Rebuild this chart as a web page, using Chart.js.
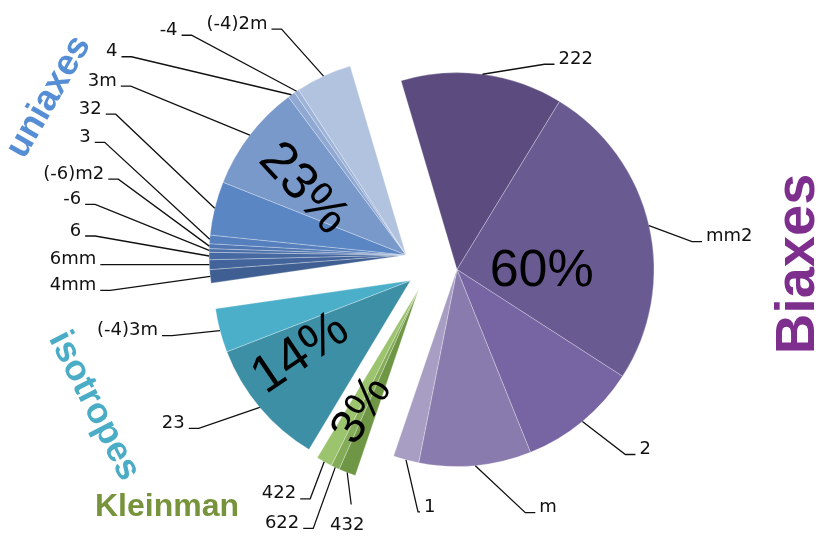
<!DOCTYPE html>
<html>
<head>
<meta charset="utf-8">
<script src="https://cdn.jsdelivr.net/npm/chart.js@4.4.1/dist/chart.umd.min.js"></script>
<style>
  html, body { margin: 0; padding: 0; background: #ffffff; }
  #wrap { width: 825px; height: 538px; position: relative; }
</style>
</head>
<body>
<div id="wrap"><canvas id="c" width="825" height="538"></canvas></div>
<script>
// Crystal point groups, clockwise from the top
const pointGroups = ['222', 'mm2', '2', 'm', '1',
                     '432', '622', '422',
                     '23', '(-4)3m',
                     '4mm', '6mm', '6', '-6', '(-6)m2', '3', '32', '3m', '4', '-4', '(-4)2m'];

// Share of each point group, in %
const shares = [13.3, 25.4, 9.8, 9.2, 2.1,
                1.4, 0.7, 1.3,
                10.5, 3.6,
                1.1, 0.8, 0.6, 0.3, 0.4, 0.7, 4.4, 8.8, 0.6, 0.4, 4.6];

// Family of each point group (index into familyNames)
const familyOf = [0, 0, 0, 0, 0,
                  1, 1, 1,
                  2, 2,
                  3, 3, 3, 3, 3, 3, 3, 3, 3, 3, 3];

const familyNames = ['Biaxes', 'Kleinman', 'isotropes', 'uniaxes'];

// ---- styling ----
const sliceColors = ['#5C4B7E', '#6A5A92', '#7764A2', '#8A7BAF', '#A89EC3',
                     '#6F9645', '#84AC58', '#9CC36E',
                     '#3D8FA6', '#4BAFC9',
                     '#3F5F93', '#43649A', '#4769A1', '#4B6FA8', '#5077B2', '#557FBD',
                     '#5B86C4', '#7899C9', '#8FA9D3', '#9DB3D8', '#B2C3E0'];

// explode distance, family title and percentage label placement
const familyStyle = [
  { explode: 29, color: '#7E2F8E', title: { x: 799, y: 264, angle: -90, size: 56 },
    pct: { r: 0.43, angle: 0, size: 52 } },
  { explode: 22, color: '#77933C', title: { x: 167, y: 507, angle: 0, size: 32 },
    pct: { r: 0.68, angle: -57, size: 48 } },
  { explode: 21, color: '#4BACC6', title: { x: 94, y: 406, angle: 63, size: 36 },
    pct: { r: 0.67, angle: -34, size: 52 } },
  { explode: 26, color: '#558ED5', title: { x: 49, y: 97, angle: -60, size: 36 },
    pct: { r: 0.62, angle: 47, size: 52 } }
];

// callouts: elbow offset from the slice's outer edge and text side
const callouts = {
  '222':    { dx: 62,   dy: -10, side: 'r' },
  'mm2':    { dx: 43,   dy: 16,  side: 'r' },
  '2':      { dx: 43,   dy: 33,  side: 'r' },
  'm':      { dx: 50,   dy: 47,  side: 'r' },
  '1':      { dx: 12,   dy: 52,  side: 'r', seg: 2 },
  '432':    { dx: 4,    dy: 32,  side: 'b' },
  '622':    { dx: -22,  dy: 61,  side: 'l' },
  '422':    { dx: -14,  dy: 37,  side: 'l' },
  '23':     { dx: -61,  dy: 21,  side: 'l' },
  '(-4)3m': { dx: -48,  dy: 5,   side: 'l' },
  '4mm':    { dx: -100, dy: 14,  side: 'l' },
  '6mm':    { dx: -99,  dy: 0,   side: 'l' },
  '6':      { dx: -114, dy: -20, side: 'l' },
  '-6':     { dx: -114, dy: -46, side: 'l' },
  '(-6)m2': { dx: -91,  dy: -67, side: 'l' },
  '3':      { dx: -105, dy: -97, side: 'l' },
  '32':     { dx: -99,  dy: -94, side: 'l' },
  '3m':     { dx: -119, dy: -49, side: 'l' },
  '4':      { dx: -160, dy: -38, side: 'l' },
  '-4':     { dx: -105, dy: -56, side: 'l' },
  '(-4)2m': { dx: -42,  dy: -47, side: 'l' }
};

// angular extent of a family, from its arcs
function familyExtent(arcs, f) {
  let s = Infinity, e = -Infinity;
  arcs.forEach((a, i) => {
    if (familyOf[i] === f) { s = Math.min(s, a.startAngle); e = Math.max(e, a.endAngle); }
  });
  return { s, e, mid: (s + e) / 2 };
}

// pull each family out of the pie as one block
const familyExplodePlugin = {
  id: 'familyExplode',
  afterDatasetUpdate(chart, args) {
    const arcs = args.meta.data;
    familyNames.forEach((name, f) => {
      const ext = familyExtent(arcs, f);
      const d = familyStyle[f].explode;
      arcs.forEach((a, i) => {
        if (familyOf[i] === f) {
          a.x += Math.cos(ext.mid) * d;
          a.y += Math.sin(ext.mid) * d;
        }
      });
    });
  }
};

// point-group callouts, family percentages and family titles
const annotationPlugin = {
  id: 'annotations',
  afterDatasetsDraw(chart) {
    const ctx = chart.ctx;
    const arcs = chart.getDatasetMeta(0).data;

    ctx.save();
    ctx.strokeStyle = '#111111';
    ctx.lineWidth = 1.3;
    ctx.fillStyle = '#111111';
    ctx.font = '18px "DejaVu Sans"';
    ctx.textBaseline = 'middle';
    arcs.forEach((a, i) => {
      const label = pointGroups[i];
      const c = callouts[label];
      const mid = (a.startAngle + a.endAngle) / 2;
      const ax = a.x + Math.cos(mid) * a.outerRadius;
      const ay = a.y + Math.sin(mid) * a.outerRadius;
      const ex = ax + c.dx, ey = ay + c.dy;
      const seg = c.seg !== undefined ? c.seg : 10;
      ctx.beginPath();
      ctx.moveTo(ax, ay);
      ctx.lineTo(ex, ey);
      if (c.side === 'r') {
        ctx.lineTo(ex + seg, ey);
        ctx.stroke();
        ctx.textAlign = 'left';
        ctx.fillText(label, ex + seg + 4, ey - 5);
      } else if (c.side === 'l') {
        ctx.lineTo(ex - seg, ey);
        ctx.stroke();
        ctx.textAlign = 'right';
        ctx.fillText(label, ex - seg - 4, ey - 5);
      } else {
        ctx.stroke();
        ctx.textAlign = 'center';
        ctx.fillText(label, ex - 4, ey + 21);
      }
    });
    ctx.restore();

    const total = shares.reduce((s, v) => s + v, 0);
    familyNames.forEach((name, f) => {
      const st = familyStyle[f];
      const ext = familyExtent(arcs, f);
      const first = arcs[familyOf.indexOf(f)];
      const sum = shares.reduce((s, v, i) => s + (familyOf[i] === f ? v : 0), 0);
      const pct = Math.round(sum / total * 100) + '%';
      const r = first.outerRadius * st.pct.r;
      const px = first.x + Math.cos(ext.mid) * r;
      const py = first.y + Math.sin(ext.mid) * r;

      ctx.save();
      ctx.translate(px, py);
      ctx.rotate(st.pct.angle * Math.PI / 180);
      ctx.fillStyle = '#000000';
      ctx.font = st.pct.size + 'px "Liberation Sans"';
      ctx.textAlign = 'center';
      ctx.textBaseline = 'middle';
      ctx.fillText(pct, 0, 0);
      ctx.restore();

      ctx.save();
      ctx.translate(st.title.x, st.title.y);
      ctx.rotate(st.title.angle * Math.PI / 180);
      ctx.fillStyle = st.color;
      ctx.font = 'bold ' + st.title.size + 'px "Liberation Sans"';
      ctx.textAlign = 'center';
      ctx.textBaseline = 'middle';
      ctx.fillText(name, 0, 0);
      ctx.restore();
    });
  }
};

new Chart(document.getElementById('c'), {
  type: 'pie',
  data: {
    labels: pointGroups,
    datasets: [{
      data: shares,
      backgroundColor: sliceColors,
      borderColor: 'rgba(255,255,255,0.28)',
      borderWidth: 1,
      hoverOffset: 0
    }]
  },
  options: {
    responsive: false,
    devicePixelRatio: 1,
    animation: false,
    events: [],
    rotation: -16.5,
    radius: 197,
    layout: { padding: { left: 31, right: 0, top: 0, bottom: 0 } },
    plugins: {
      legend: { display: false },
      tooltip: { enabled: false }
    }
  },
  plugins: [familyExplodePlugin, annotationPlugin]
});
</script>
</body>
</html>
